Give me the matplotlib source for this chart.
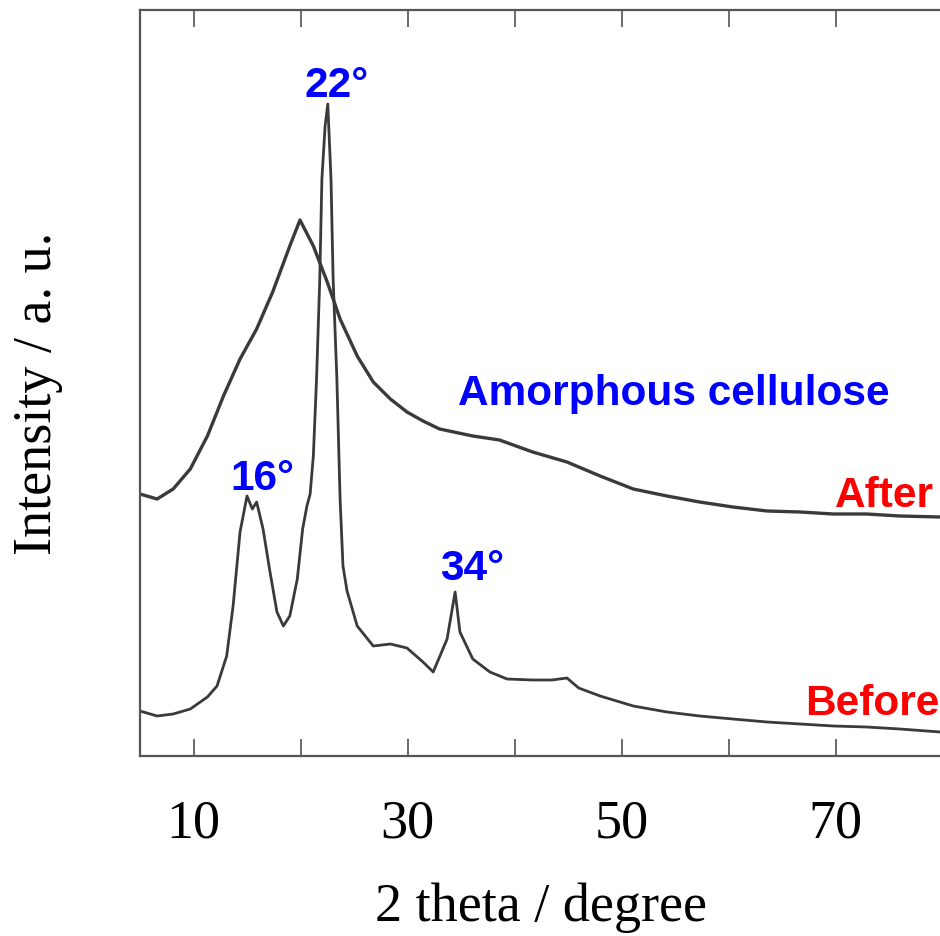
import matplotlib
matplotlib.use("Agg")
import matplotlib.pyplot as plt

# ---- data (2 theta in degrees, intensity in arbitrary units) ----
before_x = [5.0, 6.6, 8.1, 9.7, 11.3, 12.2, 13.1, 13.7, 14.35, 15.0, 15.5, 15.9,
            16.5, 17.15, 17.8, 18.4, 19.0, 19.7, 20.2, 20.6, 20.9, 21.2, 21.5, 21.8,
            22.0, 22.3, 22.55, 22.85, 23.05, 23.4, 23.7, 23.97, 24.35, 25.3,
            26.8, 28.4, 29.95, 31.45, 32.4, 33.7, 34.45, 34.9, 36.1, 37.7, 39.3,
            41.7, 43.5, 44.9, 46.0, 48.0, 51.1, 54.25, 57.3, 60.4, 63.6, 66.7,
            69.8, 72.9, 76.0, 79.8]
before_y = [45, 40, 42, 47, 59, 70, 100, 150, 224, 260, 247, 254,
            227, 184, 144, 130, 140, 177, 227, 250, 262, 300, 377, 477,
            577, 630, 652, 577, 477, 377, 257, 190, 165, 130,
            110, 112, 108, 94, 84, 117, 164, 124, 97, 84, 77,
            76, 76, 78, 68, 60, 50, 44, 40, 37, 34, 32,
            30, 29, 27, 24]

after_x = [5.0, 6.6, 8.1, 9.7, 11.3, 12.8, 14.35, 15.9, 17.4, 19.0, 19.95, 21.2,
           22.5, 23.7, 25.3, 26.8, 28.4, 29.95, 31.45, 33.0, 36.1, 38.6, 41.7,
           44.9, 48.0, 51.1, 54.25, 57.3, 60.4, 63.6, 66.7, 69.8, 72.9, 76.0, 79.8]
after_y = [262, 257, 267, 287, 320, 360, 397, 427, 464, 510, 536, 510,
           474, 437, 400, 374, 357, 344, 335, 327, 320, 316, 304,
           294, 280, 267, 260, 254, 249, 245, 244, 242, 242, 240, 239]

x_ticks = [10, 20, 30, 40, 50, 60, 70, 80]
x_tick_labels = ["10", "", "30", "", "50", "", "70", ""]

W, H = 940, 937
fig = plt.figure(figsize=(W / 100, H / 100), dpi=100)
ax = fig.add_axes([140 / W, (H - 757) / H, 802.5 / W, 746 / H])

line_color = "#3a3a3a"
ax.plot(after_x, after_y, color=line_color, lw=2.4, solid_joinstyle="round")
ax.plot(before_x, before_y, color=line_color, lw=2.0, solid_joinstyle="round")

ax.set_xlim(5, 80)
ax.set_ylim(0, 746)

serif = ["Liberation Serif", "DejaVu Serif"]
ax.set_xticks(x_ticks)
ax.set_xticklabels(x_tick_labels, family=serif, fontsize=39)
ax.set_yticks([])
ax.tick_params(axis="x", direction="in", length=12, width=1.1, color="#444444",
               top=True, bottom=True, pad=30)

for s in ax.spines.values():
    s.set_color("#555555")
    s.set_linewidth(1.6)
ax.spines["right"].set_visible(False)

ax.set_xlabel("2 theta / degree", family=serif, fontsize=39, labelpad=24)
ax.set_ylabel("Intensity / a. u.", family=serif, fontsize=39)
ax.yaxis.set_label_coords(-0.096, 0.487)

sans = ["Liberation Sans", "DejaVu Sans"]
blue = "#0000ff"
red = "#ff0000"


def put(text, px, py_base, color, ha="left"):
    # px, py_base in reference pixel coords (origin top-left)
    fig.text(px / W, (H - py_base) / H, text, family=sans, fontsize=30.5,
             fontweight="bold", color=color, ha=ha, va="baseline")


put("22°", 305, 97, blue)
put("Amorphous cellulose", 458, 405, blue)
put("16°", 230, 490, blue)
put("34°", 440, 580, blue)
put("After", 835, 507, red)
put("Before", 805, 715, red)

fig.savefig("out.png", dpi=100)
